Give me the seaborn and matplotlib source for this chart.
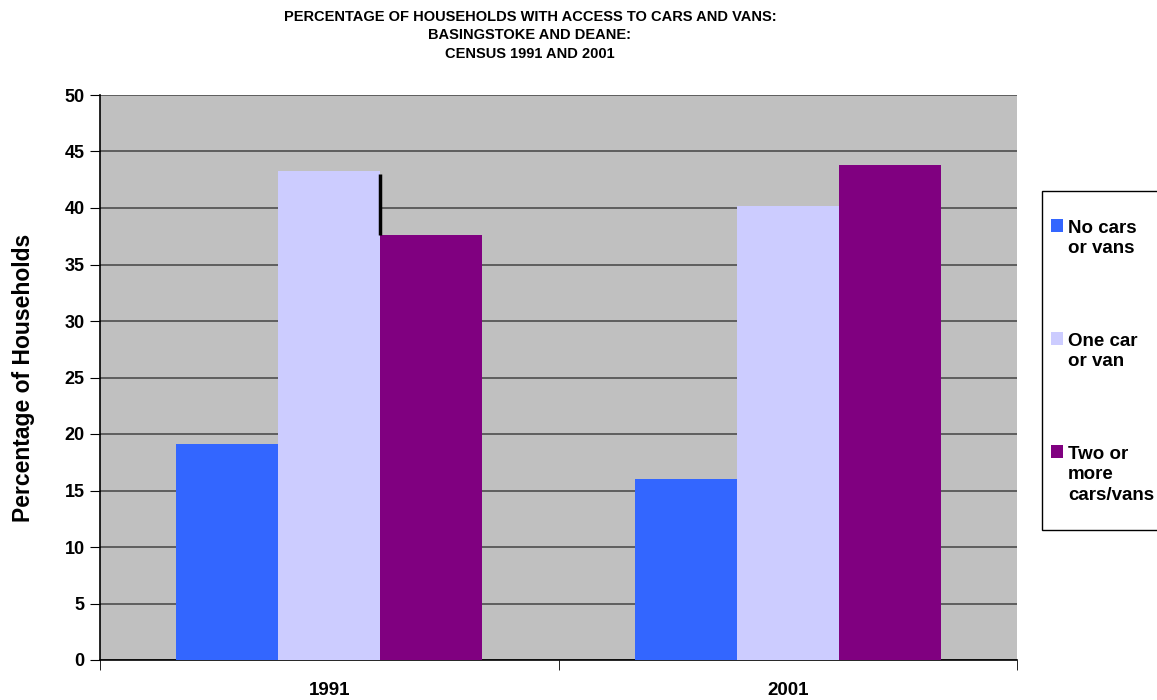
import pandas as pd
import matplotlib
matplotlib.use("Agg")
import matplotlib.pyplot as plt
import matplotlib.patches as mpatches
import seaborn as sns

years = ["1991", "2001"]
categories = ["No cars\nor vans", "One car\nor van", "Two or\nmore\ncars/vans"]
no_cars = [19.1, 16.0]
one_car = [43.3, 40.2]
two_plus = [37.6, 43.8]
colors = ["#3366FF", "#CCCCFF", "#800080"]
y_ticks = list(range(0, 55, 5))

df = pd.DataFrame({
    "year": years * 3,
    "cars": [categories[0]] * 2 + [categories[1]] * 2 + [categories[2]] * 2,
    "pct": no_cars + one_car + two_plus,
})

sns.set_style("white")
plt.rcParams["font.family"] = ["Liberation Sans", "DejaVu Sans"]
for k in ["text.color", "axes.labelcolor", "xtick.color", "ytick.color"]:
    plt.rcParams[k] = "black"

W, H = 1157, 700
fig = plt.figure(figsize=(W / 100, H / 100), dpi=100)
ax = fig.add_axes([100 / W, 1 - 660 / H, 917 / W, 565 / H])
ax.set_facecolor("#C0C0C0")

sns.barplot(data=df, x="year", y="pct", hue="cars", order=years,
            hue_order=categories, palette=colors, width=0.667,
            saturation=1, ax=ax, legend=False, zorder=3)
for p in ax.patches:
    p.set_edgecolor("none")

# small black drop line seen in the original at 1991 between bar 2 and 3
light_1991 = [p for p in ax.patches if abs(p.get_height() - one_car[0]) < 1e-9][0]
ax.vlines(light_1991.get_x() + light_1991.get_width(), two_plus[0], one_car[0] - 0.25,
          color="black", linewidth=2.5, zorder=4)

ax.set_ylim(0, 50)
ax.set_xlim(-0.5, 1.5)
ax.set_yticks(y_ticks)
ax.yaxis.grid(True, color="#4d4d4d", linewidth=1.2, zorder=0)
ax.set_axisbelow(True)
for s in ["top", "right"]:
    ax.spines[s].set_visible(False)
for s in ["left", "bottom"]:
    ax.spines[s].set_color("black")
    ax.spines[s].set_linewidth(1.2)

ax.set_xticks([0, 1])
ax.set_xticklabels(years, fontsize=13.5, fontweight="bold")
ax.tick_params(axis="x", length=0, pad=16)
ax.set_xticks([-0.5, 0.5, 1.5], minor=True)
ax.tick_params(axis="x", which="minor", length=7, direction="out", color="black", bottom=True)
ax.tick_params(axis="y", length=7, direction="out", color="black", left=True,
               labelsize=13, pad=4)
for t in ax.get_yticklabels():
    t.set_fontweight("bold")

ax.set_xlabel("")
ax.set_ylabel("Percentage of Households", fontsize=16.5, fontweight="bold", labelpad=21)

fig.suptitle("PERCENTAGE OF HOUSEHOLDS WITH ACCESS TO CARS AND VANS:\nBASINGSTOKE AND DEANE:\nCENSUS 1991 AND 2001",
             x=530 / W, y=1 - 10 / H, va="top", fontsize=10.5, fontweight="bold",
             linespacing=1.4)

# legend box drawn by hand, square aligned with the first line of each label
fig.patches.append(mpatches.Rectangle((1042 / W, 1 - 530 / H), 140 / W, 339 / H,
                                      transform=fig.transFigure, facecolor="white",
                                      edgecolor="black", linewidth=1, figure=fig))
for i, (lab, col) in enumerate(zip(categories, colors)):
    top = 219 + i * 113
    fig.patches.append(mpatches.Rectangle((1051 / W, 1 - (top + 13) / H), 12 / W, 13 / H,
                                          transform=fig.transFigure, facecolor=col,
                                          edgecolor="none", figure=fig))
    fig.text(1068 / W, 1 - (top + 1) / H, lab, fontsize=13.5, fontweight="bold",
             va="top", ha="left", linespacing=1.25)

fig.savefig("out.png", dpi=100)
